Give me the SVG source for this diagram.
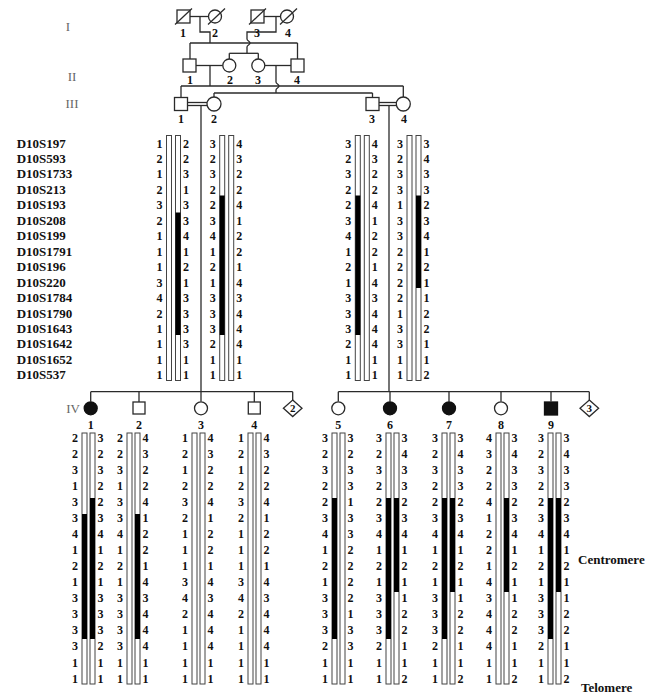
<svg xmlns="http://www.w3.org/2000/svg" width="653" height="699" viewBox="0 0 653 699">
<style>
text{font-family:'Liberation Serif','Times New Roman',serif}
.a{font-size:12px;font-weight:bold;text-anchor:middle;fill:#111}
.n{font-size:13px;font-weight:bold;fill:#111}
.gen{font-size:13px;fill:#666;text-anchor:middle}
.id{font-size:12px;font-weight:bold;text-anchor:middle;fill:#111}
.ln{fill:none;stroke:#2a2a2a;stroke-width:1.3}
.s{fill:#fff;stroke:#2a2a2a;stroke-width:1.3}
.f{fill:#111;stroke:#111;stroke-width:1.3}
.bar{fill:#fff;stroke:#444;stroke-width:1}
.blk{fill:#000}
.dx{font-size:11px;font-weight:bold;text-anchor:middle;fill:#111}
</style>
<rect width="653" height="699" fill="#fff"/>

<g id="generation-labels">
<text class="gen" x="68" y="31">I</text>
<text class="gen" x="72" y="81">II</text>
<text class="gen" x="72" y="108">III</text>
<text class="gen" x="73" y="413">IV</text>
</g>

<g id="connectors">
<line class="ln" x1="190" y1="16.5" x2="208.5" y2="16.5"/>
<path class="ln" d="M200,16.5 V32 H210 V43"/>
<line class="ln" x1="190" y1="43" x2="297.5" y2="43"/>
<line class="ln" x1="190" y1="43" x2="190" y2="59"/>
<line class="ln" x1="297.5" y1="43" x2="297.5" y2="59"/>
<line class="ln" x1="264" y1="16.5" x2="280.5" y2="16.5"/>
<path class="ln" d="M276,16.5 V32 H247 V39 c0,2 3,2 3,4 c0,2 -3,2 -3,4 V53.3"/>
<line class="ln" x1="229.3" y1="53.3" x2="258.3" y2="53.3"/>
<line class="ln" x1="229.3" y1="53.3" x2="229.3" y2="59"/>
<line class="ln" x1="258.3" y1="53.3" x2="258.3" y2="59"/>
<line class="ln" x1="196" y1="65.5" x2="222.8" y2="65.5"/>
<line class="ln" x1="210" y1="65.5" x2="210" y2="86"/>
<line class="ln" x1="264.8" y1="65.5" x2="291" y2="65.5"/>
<path class="ln" d="M276,65.5 V82 c0,2 3,2 3,4 c0,2 -3,2 -3,4 V93"/>
<line class="ln" x1="181" y1="86" x2="403.3" y2="86"/>
<line class="ln" x1="181" y1="86" x2="181" y2="97.5"/>
<line class="ln" x1="403.3" y1="86" x2="403.3" y2="97"/>
<line class="ln" x1="214" y1="93" x2="372.5" y2="93"/>
<line class="ln" x1="214" y1="93" x2="214" y2="97"/>
<line class="ln" x1="372.5" y1="93" x2="372.5" y2="97.5"/>
<line class="ln" x1="187.5" y1="102.5" x2="207" y2="102.5"/>
<line class="ln" x1="187.5" y1="105.5" x2="207" y2="105.5"/>
<line class="ln" x1="201" y1="105.5" x2="201" y2="391.7"/>
<line class="ln" x1="379" y1="102.5" x2="396.3" y2="102.5"/>
<line class="ln" x1="379" y1="105.5" x2="396.3" y2="105.5"/>
<line class="ln" x1="389" y1="105.5" x2="389" y2="391.7"/>
<line class="ln" x1="90.7" y1="391.7" x2="292.7" y2="391.7"/>
<line class="ln" x1="338.3" y1="391.7" x2="589.3" y2="391.7"/>
<line class="ln" x1="90.7" y1="391.7" x2="90.7" y2="401.5"/>
<line class="ln" x1="139" y1="391.7" x2="139" y2="402"/>
<line class="ln" x1="201" y1="391.7" x2="201" y2="401.5"/>
<line class="ln" x1="254.3" y1="391.7" x2="254.3" y2="402"/>
<line class="ln" x1="292.7" y1="391.7" x2="292.7" y2="400"/>
<line class="ln" x1="338.3" y1="391.7" x2="338.3" y2="401.5"/>
<line class="ln" x1="390" y1="391.7" x2="390" y2="401.5"/>
<line class="ln" x1="449" y1="391.7" x2="449" y2="401.5"/>
<line class="ln" x1="501" y1="391.7" x2="501" y2="401.5"/>
<line class="ln" x1="551" y1="391.7" x2="551" y2="401.5"/>
<line class="ln" x1="589.3" y1="391.7" x2="589.3" y2="400"/>
</g>

<g id="I-1"><rect class="s" x="177" y="10" width="13" height="13"/><line class="ln" x1="175" y1="24.5" x2="192" y2="8.5"/><text class="id" x="183" y="37">1</text></g>
<g id="I-2"><circle class="s" cx="215" cy="16.5" r="6.5"/><line class="ln" x1="208" y1="24.5" x2="225" y2="8.5"/><text class="id" x="215" y="37">2</text></g>
<g id="I-3"><rect class="s" x="251" y="10" width="13" height="13"/><line class="ln" x1="249" y1="24.5" x2="266" y2="8.5"/><text class="id" x="257" y="37">3</text></g>
<g id="I-4"><circle class="s" cx="287" cy="16.5" r="6.5"/><line class="ln" x1="280" y1="24.5" x2="297" y2="8.5"/><text class="id" x="288" y="37">4</text></g>

<g id="II-1"><rect class="s" x="183" y="59" width="13" height="13"/><text class="id" x="190" y="84">1</text></g>
<g id="II-2"><circle class="s" cx="229.3" cy="65.5" r="6.5"/><text class="id" x="230" y="84">2</text></g>
<g id="II-3"><circle class="s" cx="258.3" cy="65.5" r="6.5"/><text class="id" x="258" y="84">3</text></g>
<g id="II-4"><rect class="s" x="291" y="59" width="13" height="13"/><text class="id" x="297" y="84">4</text></g>

<g id="III-1"><rect class="s" x="174.5" y="97.5" width="13" height="13"/><text class="id" x="181" y="123">1</text></g>
<g id="III-2"><circle class="s" cx="214" cy="104" r="7"/><text class="id" x="214" y="123">2</text></g>
<g id="III-3"><rect class="s" x="366" y="97.5" width="13" height="13"/><text class="id" x="372" y="123">3</text></g>
<g id="III-4"><circle class="s" cx="403.3" cy="104" r="7"/><text class="id" x="404" y="123">4</text></g>

<g id="IV-1"><circle class="f" cx="90.7" cy="408.3" r="6.5"/><text class="id" x="90.7" y="429">1</text></g>
<g id="IV-2"><rect class="s" x="133" y="402" width="12" height="12"/><text class="id" x="139" y="429">2</text></g>
<g id="IV-3"><circle class="s" cx="201" cy="408.3" r="6.5"/><text class="id" x="201" y="429">3</text></g>
<g id="IV-4"><rect class="s" x="248.3" y="402" width="12" height="12"/><text class="id" x="254.3" y="429">4</text></g>
<g id="IV-sibs2"><polygon class="s" points="292.7,400 302,408.3 292.7,416.6 283.4,408.3"/><text class="dx" x="292.7" y="412.3">2</text></g>
<g id="IV-5"><circle class="s" cx="338.3" cy="408.3" r="6.5"/><text class="id" x="338.3" y="429">5</text></g>
<g id="IV-6"><circle class="f" cx="390" cy="408.3" r="6.5"/><text class="id" x="390" y="429">6</text></g>
<g id="IV-7"><circle class="f" cx="449" cy="408.3" r="6.5"/><text class="id" x="449" y="429">7</text></g>
<g id="IV-8"><circle class="s" cx="501" cy="408.3" r="6.5"/><text class="id" x="501" y="429">8</text></g>
<g id="IV-9"><rect class="f" x="544.5" y="402" width="13" height="13"/><text class="id" x="551" y="429">9</text></g>
<g id="IV-sibs3"><polygon class="s" points="589.3,400 598.6,408.3 589.3,416.6 580,408.3"/><text class="dx" x="589.3" y="412.3">3</text></g>

<g id="markers">
<text class="n" x="16.7" y="147.5">D10S197</text>
<text class="n" x="16.7" y="163">D10S593</text>
<text class="n" x="16.7" y="178.4">D10S1733</text>
<text class="n" x="16.7" y="193.9">D10S213</text>
<text class="n" x="16.7" y="209.3">D10S193</text>
<text class="n" x="16.7" y="224.8">D10S208</text>
<text class="n" x="16.7" y="240.2">D10S199</text>
<text class="n" x="16.7" y="255.7">D10S1791</text>
<text class="n" x="16.7" y="271.1">D10S196</text>
<text class="n" x="16.7" y="286.6">D10S220</text>
<text class="n" x="16.7" y="302">D10S1784</text>
<text class="n" x="16.7" y="317.5">D10S1790</text>
<text class="n" x="16.7" y="332.9">D10S1643</text>
<text class="n" x="16.7" y="348.4">D10S1642</text>
<text class="n" x="16.7" y="363.8">D10S1652</text>
<text class="n" x="16.7" y="379.3">D10S537</text>
</g>

<g id="hap-III-1" transform="translate(159.5,0)">
<rect class="bar" x="7" y="135.5" width="5" height="245"/><rect class="bar" x="16" y="135.5" width="5" height="245"/>
<rect class="blk" x="16" y="212.5" width="5" height="122.5"/>
<text class="a" x="0" y="147.5">1</text><text class="a" x="0" y="163">2</text><text class="a" x="0" y="178.4">1</text><text class="a" x="0" y="193.9">2</text><text class="a" x="0" y="209.3">3</text><text class="a" x="0" y="224.8">2</text><text class="a" x="0" y="240.2">1</text><text class="a" x="0" y="255.7">1</text><text class="a" x="0" y="271.1">1</text><text class="a" x="0" y="286.6">3</text><text class="a" x="0" y="302">4</text><text class="a" x="0" y="317.5">2</text><text class="a" x="0" y="332.9">1</text><text class="a" x="0" y="348.4">1</text><text class="a" x="0" y="363.8">1</text><text class="a" x="0" y="379.3">1</text>
<text class="a" x="26.5" y="147.5">2</text><text class="a" x="26.5" y="163">2</text><text class="a" x="26.5" y="178.4">3</text><text class="a" x="26.5" y="193.9">1</text><text class="a" x="26.5" y="209.3">3</text><text class="a" x="26.5" y="224.8">3</text><text class="a" x="26.5" y="240.2">4</text><text class="a" x="26.5" y="255.7">1</text><text class="a" x="26.5" y="271.1">2</text><text class="a" x="26.5" y="286.6">1</text><text class="a" x="26.5" y="302">3</text><text class="a" x="26.5" y="317.5">3</text><text class="a" x="26.5" y="332.9">3</text><text class="a" x="26.5" y="348.4">3</text><text class="a" x="26.5" y="363.8">1</text><text class="a" x="26.5" y="379.3">1</text>
</g>

<g id="hap-III-2" transform="translate(212.7,0)">
<rect class="bar" x="7" y="135.5" width="5" height="245"/><rect class="bar" x="16" y="135.5" width="5" height="245"/>
<rect class="blk" x="7" y="195.5" width="5" height="139.5"/>
<text class="a" x="0" y="147.5">3</text><text class="a" x="0" y="163">2</text><text class="a" x="0" y="178.4">3</text><text class="a" x="0" y="193.9">2</text><text class="a" x="0" y="209.3">2</text><text class="a" x="0" y="224.8">3</text><text class="a" x="0" y="240.2">4</text><text class="a" x="0" y="255.7">1</text><text class="a" x="0" y="271.1">2</text><text class="a" x="0" y="286.6">1</text><text class="a" x="0" y="302">3</text><text class="a" x="0" y="317.5">3</text><text class="a" x="0" y="332.9">3</text><text class="a" x="0" y="348.4">2</text><text class="a" x="0" y="363.8">1</text><text class="a" x="0" y="379.3">1</text>
<text class="a" x="26.5" y="147.5">4</text><text class="a" x="26.5" y="163">3</text><text class="a" x="26.5" y="178.4">2</text><text class="a" x="26.5" y="193.9">2</text><text class="a" x="26.5" y="209.3">4</text><text class="a" x="26.5" y="224.8">1</text><text class="a" x="26.5" y="240.2">2</text><text class="a" x="26.5" y="255.7">2</text><text class="a" x="26.5" y="271.1">1</text><text class="a" x="26.5" y="286.6">4</text><text class="a" x="26.5" y="302">3</text><text class="a" x="26.5" y="317.5">4</text><text class="a" x="26.5" y="332.9">4</text><text class="a" x="26.5" y="348.4">4</text><text class="a" x="26.5" y="363.8">1</text><text class="a" x="26.5" y="379.3">1</text>
</g>

<g id="hap-III-3" transform="translate(348.3,0)">
<rect class="bar" x="7" y="135.5" width="5" height="245"/><rect class="bar" x="16" y="135.5" width="5" height="245"/>
<rect class="blk" x="7" y="195.5" width="5" height="139.5"/>
<text class="a" x="0" y="147.5">3</text><text class="a" x="0" y="163">2</text><text class="a" x="0" y="178.4">3</text><text class="a" x="0" y="193.9">2</text><text class="a" x="0" y="209.3">2</text><text class="a" x="0" y="224.8">3</text><text class="a" x="0" y="240.2">4</text><text class="a" x="0" y="255.7">1</text><text class="a" x="0" y="271.1">2</text><text class="a" x="0" y="286.6">1</text><text class="a" x="0" y="302">3</text><text class="a" x="0" y="317.5">3</text><text class="a" x="0" y="332.9">3</text><text class="a" x="0" y="348.4">2</text><text class="a" x="0" y="363.8">1</text><text class="a" x="0" y="379.3">1</text>
<text class="a" x="26.5" y="147.5">4</text><text class="a" x="26.5" y="163">3</text><text class="a" x="26.5" y="178.4">2</text><text class="a" x="26.5" y="193.9">2</text><text class="a" x="26.5" y="209.3">4</text><text class="a" x="26.5" y="224.8">1</text><text class="a" x="26.5" y="240.2">2</text><text class="a" x="26.5" y="255.7">2</text><text class="a" x="26.5" y="271.1">1</text><text class="a" x="26.5" y="286.6">4</text><text class="a" x="26.5" y="302">3</text><text class="a" x="26.5" y="317.5">4</text><text class="a" x="26.5" y="332.9">4</text><text class="a" x="26.5" y="348.4">4</text><text class="a" x="26.5" y="363.8">1</text><text class="a" x="26.5" y="379.3">1</text>
</g>

<g id="hap-III-4" transform="translate(400,0)">
<rect class="bar" x="7" y="135.5" width="5" height="245"/><rect class="bar" x="16" y="135.5" width="5" height="245"/>
<rect class="blk" x="16" y="195.5" width="5" height="92.5"/>
<text class="a" x="0" y="147.5">3</text><text class="a" x="0" y="163">2</text><text class="a" x="0" y="178.4">3</text><text class="a" x="0" y="193.9">3</text><text class="a" x="0" y="209.3">1</text><text class="a" x="0" y="224.8">3</text><text class="a" x="0" y="240.2">3</text><text class="a" x="0" y="255.7">2</text><text class="a" x="0" y="271.1">2</text><text class="a" x="0" y="286.6">2</text><text class="a" x="0" y="302">2</text><text class="a" x="0" y="317.5">1</text><text class="a" x="0" y="332.9">3</text><text class="a" x="0" y="348.4">3</text><text class="a" x="0" y="363.8">1</text><text class="a" x="0" y="379.3">1</text>
<text class="a" x="26.5" y="147.5">3</text><text class="a" x="26.5" y="163">4</text><text class="a" x="26.5" y="178.4">3</text><text class="a" x="26.5" y="193.9">3</text><text class="a" x="26.5" y="209.3">2</text><text class="a" x="26.5" y="224.8">3</text><text class="a" x="26.5" y="240.2">4</text><text class="a" x="26.5" y="255.7">1</text><text class="a" x="26.5" y="271.1">2</text><text class="a" x="26.5" y="286.6">1</text><text class="a" x="26.5" y="302">1</text><text class="a" x="26.5" y="317.5">2</text><text class="a" x="26.5" y="332.9">2</text><text class="a" x="26.5" y="348.4">1</text><text class="a" x="26.5" y="363.8">1</text><text class="a" x="26.5" y="379.3">2</text>
</g>

<g id="hap-IV-1" transform="translate(75,0)">
<rect class="bar" x="7" y="433" width="5" height="251"/><rect class="bar" x="15" y="433" width="5" height="251"/>
<rect class="blk" x="7" y="514" width="5" height="125"/><rect class="blk" x="15" y="498" width="5" height="141"/>
<text class="a" x="0" y="441.5">2</text><text class="a" x="0" y="457.6">2</text><text class="a" x="0" y="473.6">3</text><text class="a" x="0" y="489.7">1</text><text class="a" x="0" y="505.8">3</text><text class="a" x="0" y="521.9">3</text><text class="a" x="0" y="537.9">4</text><text class="a" x="0" y="554">1</text><text class="a" x="0" y="570.1">2</text><text class="a" x="0" y="586.1">1</text><text class="a" x="0" y="602.2">3</text><text class="a" x="0" y="618.3">3</text><text class="a" x="0" y="634.3">3</text><text class="a" x="0" y="650.4">3</text><text class="a" x="0" y="666.5">1</text><text class="a" x="0" y="682.5">1</text>
<text class="a" x="25.5" y="441.5">3</text><text class="a" x="25.5" y="457.6">2</text><text class="a" x="25.5" y="473.6">3</text><text class="a" x="25.5" y="489.7">2</text><text class="a" x="25.5" y="505.8">2</text><text class="a" x="25.5" y="521.9">3</text><text class="a" x="25.5" y="537.9">4</text><text class="a" x="25.5" y="554">1</text><text class="a" x="25.5" y="570.1">2</text><text class="a" x="25.5" y="586.1">1</text><text class="a" x="25.5" y="602.2">3</text><text class="a" x="25.5" y="618.3">3</text><text class="a" x="25.5" y="634.3">3</text><text class="a" x="25.5" y="650.4">2</text><text class="a" x="25.5" y="666.5">1</text><text class="a" x="25.5" y="682.5">1</text>
</g>

<g id="hap-IV-2" transform="translate(120,0)">
<rect class="bar" x="7" y="433" width="5" height="251"/><rect class="bar" x="15" y="433" width="5" height="251"/>
<rect class="blk" x="15" y="514" width="5" height="125"/>
<text class="a" x="0" y="441.5">2</text><text class="a" x="0" y="457.6">2</text><text class="a" x="0" y="473.6">3</text><text class="a" x="0" y="489.7">1</text><text class="a" x="0" y="505.8">3</text><text class="a" x="0" y="521.9">3</text><text class="a" x="0" y="537.9">4</text><text class="a" x="0" y="554">1</text><text class="a" x="0" y="570.1">2</text><text class="a" x="0" y="586.1">1</text><text class="a" x="0" y="602.2">3</text><text class="a" x="0" y="618.3">3</text><text class="a" x="0" y="634.3">3</text><text class="a" x="0" y="650.4">3</text><text class="a" x="0" y="666.5">1</text><text class="a" x="0" y="682.5">1</text>
<text class="a" x="25.5" y="441.5">4</text><text class="a" x="25.5" y="457.6">3</text><text class="a" x="25.5" y="473.6">2</text><text class="a" x="25.5" y="489.7">2</text><text class="a" x="25.5" y="505.8">4</text><text class="a" x="25.5" y="521.9">1</text><text class="a" x="25.5" y="537.9">2</text><text class="a" x="25.5" y="554">2</text><text class="a" x="25.5" y="570.1">1</text><text class="a" x="25.5" y="586.1">4</text><text class="a" x="25.5" y="602.2">3</text><text class="a" x="25.5" y="618.3">4</text><text class="a" x="25.5" y="634.3">4</text><text class="a" x="25.5" y="650.4">4</text><text class="a" x="25.5" y="666.5">1</text><text class="a" x="25.5" y="682.5">1</text>
</g>

<g id="hap-IV-3" transform="translate(185,0)">
<rect class="bar" x="7" y="433" width="5" height="251"/><rect class="bar" x="15" y="433" width="5" height="251"/>
<text class="a" x="0" y="441.5">1</text><text class="a" x="0" y="457.6">2</text><text class="a" x="0" y="473.6">1</text><text class="a" x="0" y="489.7">2</text><text class="a" x="0" y="505.8">3</text><text class="a" x="0" y="521.9">2</text><text class="a" x="0" y="537.9">1</text><text class="a" x="0" y="554">1</text><text class="a" x="0" y="570.1">1</text><text class="a" x="0" y="586.1">3</text><text class="a" x="0" y="602.2">4</text><text class="a" x="0" y="618.3">2</text><text class="a" x="0" y="634.3">1</text><text class="a" x="0" y="650.4">1</text><text class="a" x="0" y="666.5">1</text><text class="a" x="0" y="682.5">1</text>
<text class="a" x="25.5" y="441.5">4</text><text class="a" x="25.5" y="457.6">3</text><text class="a" x="25.5" y="473.6">2</text><text class="a" x="25.5" y="489.7">2</text><text class="a" x="25.5" y="505.8">4</text><text class="a" x="25.5" y="521.9">1</text><text class="a" x="25.5" y="537.9">2</text><text class="a" x="25.5" y="554">2</text><text class="a" x="25.5" y="570.1">1</text><text class="a" x="25.5" y="586.1">4</text><text class="a" x="25.5" y="602.2">3</text><text class="a" x="25.5" y="618.3">4</text><text class="a" x="25.5" y="634.3">4</text><text class="a" x="25.5" y="650.4">4</text><text class="a" x="25.5" y="666.5">1</text><text class="a" x="25.5" y="682.5">1</text>
</g>

<g id="hap-IV-4" transform="translate(241,0)">
<rect class="bar" x="7" y="433" width="5" height="251"/><rect class="bar" x="15" y="433" width="5" height="251"/>
<text class="a" x="0" y="441.5">1</text><text class="a" x="0" y="457.6">2</text><text class="a" x="0" y="473.6">1</text><text class="a" x="0" y="489.7">2</text><text class="a" x="0" y="505.8">3</text><text class="a" x="0" y="521.9">2</text><text class="a" x="0" y="537.9">1</text><text class="a" x="0" y="554">1</text><text class="a" x="0" y="570.1">1</text><text class="a" x="0" y="586.1">3</text><text class="a" x="0" y="602.2">4</text><text class="a" x="0" y="618.3">2</text><text class="a" x="0" y="634.3">1</text><text class="a" x="0" y="650.4">1</text><text class="a" x="0" y="666.5">1</text><text class="a" x="0" y="682.5">1</text>
<text class="a" x="25.5" y="441.5">4</text><text class="a" x="25.5" y="457.6">3</text><text class="a" x="25.5" y="473.6">2</text><text class="a" x="25.5" y="489.7">2</text><text class="a" x="25.5" y="505.8">4</text><text class="a" x="25.5" y="521.9">1</text><text class="a" x="25.5" y="537.9">2</text><text class="a" x="25.5" y="554">2</text><text class="a" x="25.5" y="570.1">1</text><text class="a" x="25.5" y="586.1">4</text><text class="a" x="25.5" y="602.2">3</text><text class="a" x="25.5" y="618.3">4</text><text class="a" x="25.5" y="634.3">4</text><text class="a" x="25.5" y="650.4">4</text><text class="a" x="25.5" y="666.5">1</text><text class="a" x="25.5" y="682.5">1</text>
</g>

<g id="hap-IV-5" transform="translate(325,0)">
<rect class="bar" x="7" y="433" width="5" height="251"/><rect class="bar" x="15" y="433" width="5" height="251"/>
<rect class="blk" x="7" y="498" width="5" height="141"/>
<text class="a" x="0" y="441.5">3</text><text class="a" x="0" y="457.6">2</text><text class="a" x="0" y="473.6">3</text><text class="a" x="0" y="489.7">2</text><text class="a" x="0" y="505.8">2</text><text class="a" x="0" y="521.9">3</text><text class="a" x="0" y="537.9">4</text><text class="a" x="0" y="554">1</text><text class="a" x="0" y="570.1">2</text><text class="a" x="0" y="586.1">1</text><text class="a" x="0" y="602.2">3</text><text class="a" x="0" y="618.3">3</text><text class="a" x="0" y="634.3">3</text><text class="a" x="0" y="650.4">2</text><text class="a" x="0" y="666.5">1</text><text class="a" x="0" y="682.5">1</text>
<text class="a" x="25.5" y="441.5">3</text><text class="a" x="25.5" y="457.6">2</text><text class="a" x="25.5" y="473.6">3</text><text class="a" x="25.5" y="489.7">3</text><text class="a" x="25.5" y="505.8">1</text><text class="a" x="25.5" y="521.9">3</text><text class="a" x="25.5" y="537.9">3</text><text class="a" x="25.5" y="554">2</text><text class="a" x="25.5" y="570.1">2</text><text class="a" x="25.5" y="586.1">2</text><text class="a" x="25.5" y="602.2">2</text><text class="a" x="25.5" y="618.3">1</text><text class="a" x="25.5" y="634.3">3</text><text class="a" x="25.5" y="650.4">3</text><text class="a" x="25.5" y="666.5">1</text><text class="a" x="25.5" y="682.5">1</text>
</g>

<g id="hap-IV-6" transform="translate(379,0)">
<rect class="bar" x="7" y="433" width="5" height="251"/><rect class="bar" x="15" y="433" width="5" height="251"/>
<rect class="blk" x="7" y="498" width="5" height="141"/><rect class="blk" x="15" y="498" width="5" height="94"/>
<text class="a" x="0" y="441.5">3</text><text class="a" x="0" y="457.6">2</text><text class="a" x="0" y="473.6">3</text><text class="a" x="0" y="489.7">2</text><text class="a" x="0" y="505.8">2</text><text class="a" x="0" y="521.9">3</text><text class="a" x="0" y="537.9">4</text><text class="a" x="0" y="554">1</text><text class="a" x="0" y="570.1">2</text><text class="a" x="0" y="586.1">1</text><text class="a" x="0" y="602.2">3</text><text class="a" x="0" y="618.3">3</text><text class="a" x="0" y="634.3">3</text><text class="a" x="0" y="650.4">2</text><text class="a" x="0" y="666.5">1</text><text class="a" x="0" y="682.5">1</text>
<text class="a" x="25.5" y="441.5">3</text><text class="a" x="25.5" y="457.6">4</text><text class="a" x="25.5" y="473.6">3</text><text class="a" x="25.5" y="489.7">3</text><text class="a" x="25.5" y="505.8">2</text><text class="a" x="25.5" y="521.9">3</text><text class="a" x="25.5" y="537.9">4</text><text class="a" x="25.5" y="554">1</text><text class="a" x="25.5" y="570.1">2</text><text class="a" x="25.5" y="586.1">1</text><text class="a" x="25.5" y="602.2">1</text><text class="a" x="25.5" y="618.3">2</text><text class="a" x="25.5" y="634.3">2</text><text class="a" x="25.5" y="650.4">1</text><text class="a" x="25.5" y="666.5">1</text><text class="a" x="25.5" y="682.5">2</text>
</g>

<g id="hap-IV-7" transform="translate(435,0)">
<rect class="bar" x="7" y="433" width="5" height="251"/><rect class="bar" x="15" y="433" width="5" height="251"/>
<rect class="blk" x="7" y="498" width="5" height="141"/><rect class="blk" x="15" y="498" width="5" height="94"/>
<text class="a" x="0" y="441.5">3</text><text class="a" x="0" y="457.6">2</text><text class="a" x="0" y="473.6">3</text><text class="a" x="0" y="489.7">2</text><text class="a" x="0" y="505.8">2</text><text class="a" x="0" y="521.9">3</text><text class="a" x="0" y="537.9">4</text><text class="a" x="0" y="554">1</text><text class="a" x="0" y="570.1">2</text><text class="a" x="0" y="586.1">1</text><text class="a" x="0" y="602.2">3</text><text class="a" x="0" y="618.3">3</text><text class="a" x="0" y="634.3">3</text><text class="a" x="0" y="650.4">2</text><text class="a" x="0" y="666.5">1</text><text class="a" x="0" y="682.5">1</text>
<text class="a" x="25.5" y="441.5">3</text><text class="a" x="25.5" y="457.6">4</text><text class="a" x="25.5" y="473.6">3</text><text class="a" x="25.5" y="489.7">3</text><text class="a" x="25.5" y="505.8">2</text><text class="a" x="25.5" y="521.9">3</text><text class="a" x="25.5" y="537.9">4</text><text class="a" x="25.5" y="554">1</text><text class="a" x="25.5" y="570.1">2</text><text class="a" x="25.5" y="586.1">1</text><text class="a" x="25.5" y="602.2">1</text><text class="a" x="25.5" y="618.3">2</text><text class="a" x="25.5" y="634.3">2</text><text class="a" x="25.5" y="650.4">1</text><text class="a" x="25.5" y="666.5">1</text><text class="a" x="25.5" y="682.5">2</text>
</g>

<g id="hap-IV-8" transform="translate(489,0)">
<rect class="bar" x="7" y="433" width="5" height="251"/><rect class="bar" x="15" y="433" width="5" height="251"/>
<rect class="blk" x="15" y="498" width="5" height="94"/>
<text class="a" x="0" y="441.5">4</text><text class="a" x="0" y="457.6">3</text><text class="a" x="0" y="473.6">2</text><text class="a" x="0" y="489.7">2</text><text class="a" x="0" y="505.8">4</text><text class="a" x="0" y="521.9">1</text><text class="a" x="0" y="537.9">2</text><text class="a" x="0" y="554">2</text><text class="a" x="0" y="570.1">1</text><text class="a" x="0" y="586.1">4</text><text class="a" x="0" y="602.2">3</text><text class="a" x="0" y="618.3">4</text><text class="a" x="0" y="634.3">4</text><text class="a" x="0" y="650.4">4</text><text class="a" x="0" y="666.5">1</text><text class="a" x="0" y="682.5">1</text>
<text class="a" x="25.5" y="441.5">3</text><text class="a" x="25.5" y="457.6">4</text><text class="a" x="25.5" y="473.6">3</text><text class="a" x="25.5" y="489.7">3</text><text class="a" x="25.5" y="505.8">2</text><text class="a" x="25.5" y="521.9">3</text><text class="a" x="25.5" y="537.9">4</text><text class="a" x="25.5" y="554">1</text><text class="a" x="25.5" y="570.1">2</text><text class="a" x="25.5" y="586.1">1</text><text class="a" x="25.5" y="602.2">1</text><text class="a" x="25.5" y="618.3">2</text><text class="a" x="25.5" y="634.3">2</text><text class="a" x="25.5" y="650.4">1</text><text class="a" x="25.5" y="666.5">1</text><text class="a" x="25.5" y="682.5">2</text>
</g>

<g id="hap-IV-9" transform="translate(541,0)">
<rect class="bar" x="7" y="433" width="5" height="251"/><rect class="bar" x="15" y="433" width="5" height="251"/>
<rect class="blk" x="7" y="498" width="5" height="141"/><rect class="blk" x="15" y="498" width="5" height="94"/>
<text class="a" x="0" y="441.5">3</text><text class="a" x="0" y="457.6">2</text><text class="a" x="0" y="473.6">3</text><text class="a" x="0" y="489.7">2</text><text class="a" x="0" y="505.8">2</text><text class="a" x="0" y="521.9">3</text><text class="a" x="0" y="537.9">4</text><text class="a" x="0" y="554">1</text><text class="a" x="0" y="570.1">2</text><text class="a" x="0" y="586.1">1</text><text class="a" x="0" y="602.2">3</text><text class="a" x="0" y="618.3">3</text><text class="a" x="0" y="634.3">3</text><text class="a" x="0" y="650.4">2</text><text class="a" x="0" y="666.5">1</text><text class="a" x="0" y="682.5">1</text>
<text class="a" x="25.5" y="441.5">3</text><text class="a" x="25.5" y="457.6">4</text><text class="a" x="25.5" y="473.6">3</text><text class="a" x="25.5" y="489.7">3</text><text class="a" x="25.5" y="505.8">2</text><text class="a" x="25.5" y="521.9">3</text><text class="a" x="25.5" y="537.9">4</text><text class="a" x="25.5" y="554">1</text><text class="a" x="25.5" y="570.1">2</text><text class="a" x="25.5" y="586.1">1</text><text class="a" x="25.5" y="602.2">1</text><text class="a" x="25.5" y="618.3">2</text><text class="a" x="25.5" y="634.3">2</text><text class="a" x="25.5" y="650.4">1</text><text class="a" x="25.5" y="666.5">1</text><text class="a" x="25.5" y="682.5">2</text>
</g>

<g id="chromosome-labels">
<text class="n" x="578" y="564">Centromere</text>
<text class="n" x="581" y="692">Telomere</text>
</g>
</svg>
